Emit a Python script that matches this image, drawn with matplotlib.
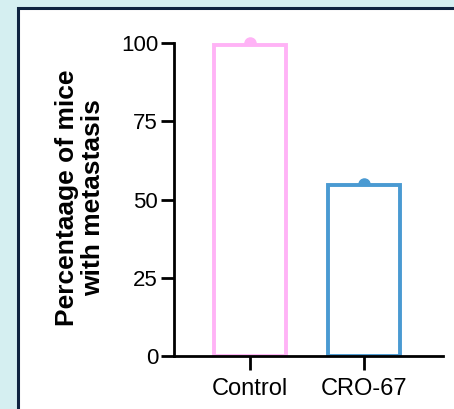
import matplotlib.pyplot as plt
from matplotlib.patches import Rectangle

groups = ['Control', 'CRO-67']
means = [99.5, 54.5]
points = [100, 55]
colors = ['#ffb3f6', '#4a9ad2']
yticks = [0, 25, 50, 75, 100]

plt.rcParams['font.family'] = ['Liberation Sans', 'DejaVu Sans']

fig = plt.figure(figsize=(4.54, 4.09), dpi=100)
fig.patch.set_facecolor('#d5eff1')
# white panel with dark frame
fig.patches.append(Rectangle((18 / 454, -0.1), 1.5, 1 - 8 / 409 + 0.1,
                             transform=fig.transFigure, facecolor='white',
                             edgecolor='#0f2340', linewidth=2.2, zorder=-1))

ax = fig.add_axes([174 / 454, 1 - 356 / 409, (443 - 174) / 454, (356 - 43) / 409])
ax.set_facecolor('none')

x = list(range(len(groups)))
for i in x:
    ax.plot(i, points[i], 'o', color=colors[i], markersize=8, zorder=1, clip_on=False)
    ax.bar(i, means[i], width=0.63, facecolor='white', edgecolor=colors[i],
           linewidth=2.8, zorder=2)

ax.set_xlim(-0.667, 1.693)
ax.set_ylim(0, 100)
ax.set_yticks(yticks)
ax.set_xticks(x)
ax.set_xticklabels(groups, fontsize=17)
ax.tick_params(axis='y', labelsize=16, length=9.5, width=2, pad=2)
ax.tick_params(axis='x', length=10, width=2, pad=6)
for s in ['top', 'right']:
    ax.spines[s].set_visible(False)
for s in ['left', 'bottom']:
    ax.spines[s].set_linewidth(2)
    ax.spines[s].set_zorder(3)

fig.text(80 / 454, 1 - 198 / 409, 'Percentaage of mice\nwith metastasis',
         rotation=90, ha='center', va='center', multialignment='center',
         fontsize=19, fontweight='bold', linespacing=1.1)

fig.savefig('out.png', dpi=100, facecolor=fig.get_facecolor())
